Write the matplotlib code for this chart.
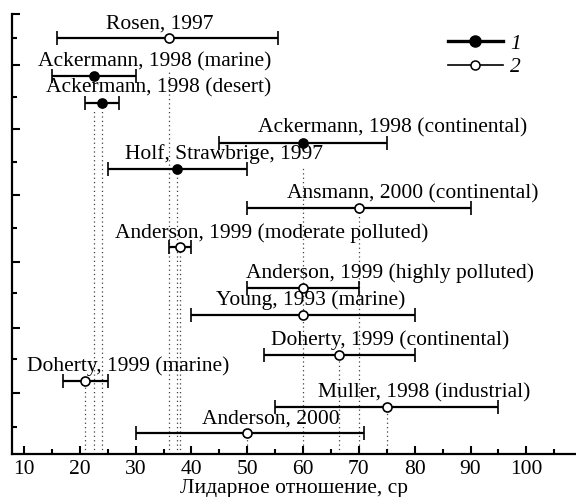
#lidar ratio estimates from different authors, with ranges
import numpy as np
import matplotlib.pyplot as plt
from matplotlib.lines import Line2D

names = ["Rosen, 1997", "Ackermann, 1998 (marine)", "Ackermann, 1998 (desert)",
         "Ackermann, 1998 (continental)", "Holf, Strawbrige, 1997",
         "Ansmann, 2000 (continental)", "Anderson, 1999 (moderate polluted)",
         "Anderson, 1999 (highly polluted)", "Young, 1993 (marine)",
         "Doherty, 1999 (continental)", "Doherty, 1999 (marine)",
         "Muller, 1998 (industrial)", "Anderson, 2000"]
center = [36, 22.5, 24, 60, 37.5, 70, 38, 60, 60, 66.5, 21, 75, 50]
low = [16, 15, 21, 45, 25, 50, 36, 50, 40, 53, 17, 55, 30]
high = [55.5, 30, 27, 75, 50, 90, 40, 70, 80, 80, 25, 95, 71]
kind = [2, 1, 1, 1, 1, 2, 2, 2, 2, 2, 2, 2, 2]
row_y = [12.64, 11.48, 10.68, 9.46, 8.67, 7.47, 6.28, 5.05, 4.22, 3.01, 2.22, 1.42, 0.63]

# layout: label centres and where the dotted guide starts (None = no guide)
label_x = [34.4, 33.5, 34.2, 76.0, 45.8, 79.6, 54.3, 75.6, 61.4, 75.6, 28.6, 81.7, 54.2]
guide_top = [11.6, 10.45, 10.68, 8.72, 8.67, 7.47, 6.28, None, None, 3.01, 2.22, 1.42, 0.63]

plt.rcParams['font.family'] = ['Liberation Serif', 'DejaVu Serif']
plt.rcParams['font.size'] = 15.5

fig = plt.figure(figsize=(5.76, 4.97), dpi=100)
ax = fig.add_axes([12/576, 43/497, 564/576, 440/497])

for j in range(len(names)):
    if guide_top[j] is not None:
        ax.plot([center[j], center[j]], [0, guide_top[j]], color='0.25',
                lw=0.9, ls=(0, (1, 2.5)), zorder=1)

for j in range(len(names)):
    filled = kind[j] == 1
    ax.errorbar(center[j], row_y[j],
                xerr=[[center[j]-low[j]], [high[j]-center[j]]],
                fmt='o', color='k', ecolor='k', elinewidth=1.6,
                capsize=5, capthick=1.6, ms=6.5,
                mfc='k' if filled else 'white', mec='k', mew=1.2, zorder=3)
    ax.annotate(names[j], (label_x[j], row_y[j]), xytext=(0, 7),
                textcoords='offset points', ha='center', va='baseline',
                zorder=4)

ax.set_xlim(7.85, 108.9)
ax.set_ylim(0, 13.37)
ax.set_xticks(np.arange(10, 101, 10))
ax.set_xticks(np.arange(10, 108, 5), minor=True)
ax.set_yticks([1.85, 3.83, 5.84, 7.87, 9.88, 11.82, 13.37])
ax.set_yticks([0.82, 2.89, 4.89, 6.87, 8.88, 10.85, 12.64], minor=True)
ax.set_yticklabels([])
ax.tick_params(which='both', direction='in', width=1.5)
ax.tick_params(which='major', length=6)
ax.tick_params(which='minor', length=3.5)
ax.tick_params(axis='x', pad=4)
for s in ['top', 'right']:
    ax.spines[s].set_visible(False)
for s in ['left', 'bottom']:
    ax.spines[s].set_linewidth(1.6)
ax.set_xlabel('Лидарное отношение, ср', labelpad=0)

h1 = Line2D([], [], color='k', lw=2.4, marker='o', ms=8, mfc='k', mec='k')
h2 = Line2D([], [], color='k', lw=1.2, marker='o', ms=6.5, mfc='white', mec='k', mew=1.1)
leg = ax.legend([h1, h2], ['1', '2'], loc='upper left', bbox_to_anchor=(0.773, 0.955),
                frameon=False, handlelength=2.55, handletextpad=0.35,
                labelspacing=0.15, borderpad=0, borderaxespad=0)
for t in leg.get_texts():
    t.set_fontstyle('italic')

plt.savefig('out.png', dpi=100)
